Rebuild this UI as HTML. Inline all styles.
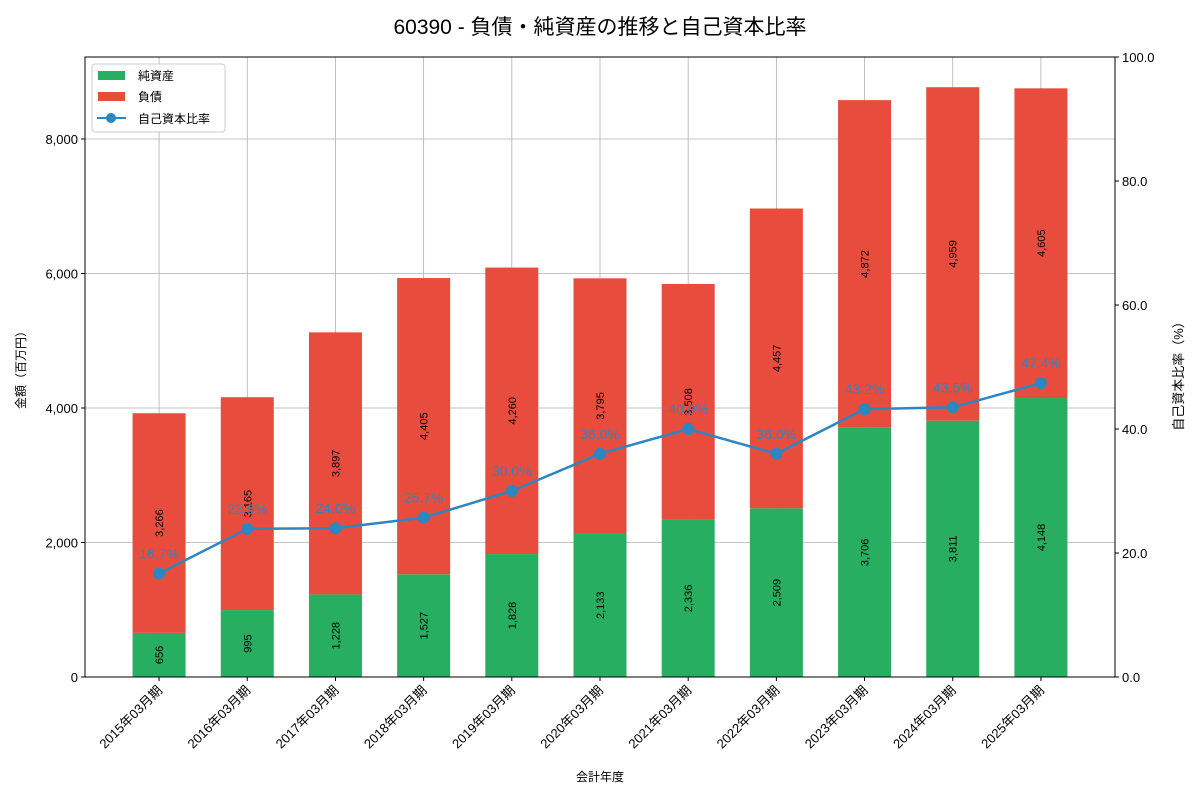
<!DOCTYPE html>
<html><head><meta charset="utf-8"><style>
body{margin:0;background:#fff;font-family:"Liberation Sans","Noto Sans CJK JP",sans-serif}
svg text{font-family:"Liberation Sans","Noto Sans CJK JP",sans-serif}
</style></head><body>
<svg id="c" width="1200" height="800" xmlns="http://www.w3.org/2000/svg">
<text x="600" y="34" font-size="21" text-anchor="middle" fill="#000">60390 - 負債・純資産の推移と自己資本比率</text>
<g id="grid"></g><g id="bars"></g><g id="line"></g>
<rect x="85" y="57" width="1030" height="620" fill="none" stroke="#000" stroke-width="1"/>
<g id="axes"></g>
<text x="600" y="781" font-size="12" text-anchor="middle">会計年度</text>
<text transform="translate(25,367) rotate(-90)" font-size="12" text-anchor="middle">金額（百万円）</text>
<text transform="translate(1183,373) rotate(-90)" font-size="13" text-anchor="middle">自己資本比率（%）</text>
<g>
<rect x="92" y="64" width="133" height="68" fill="#fff" fill-opacity="0.85" stroke="#ccc" rx="3"/>
<rect x="98" y="71" width="27" height="9" fill="#27ae60"/>
<text x="138" y="80" font-size="12">純資産</text>
<rect x="98" y="92" width="27" height="9" fill="#e74c3c"/>
<text x="138" y="101" font-size="12">負債</text>
<line x1="97" y1="118" x2="126" y2="118" stroke="#2e86c1" stroke-width="2"/><circle cx="111" cy="118" r="5" fill="#2e86c1"/>
<text x="138" y="123" font-size="12">自己資本比率</text>
</g>
</svg>
<script>
const categories=["2015年03月期","2016年03月期","2017年03月期","2018年03月期","2019年03月期","2020年03月期","2021年03月期","2022年03月期","2023年03月期","2024年03月期","2025年03月期"];
const equity=[656,995,1228,1527,1828,2133,2336,2509,3706,3811,4148];
const liabilities=[3266,3165,3897,4405,4260,3795,3508,4457,4872,4959,4605];
const ratio=[16.7,23.9,24.0,25.7,30.0,36.0,40.0,36.0,43.2,43.5,47.4];
const yTicks=[0,2000,4000,6000,8000];
const y2Ticks=[0,20,40,60,80,100];
const NS="http://www.w3.org/2000/svg";
const X0=85,X1=1115,Y0=677,Y1=57,XMIN=-0.84,XMAX=10.84,YMAX=9219,Y2MAX=100;
const xs=i=>X0+(i-XMIN)/(XMAX-XMIN)*(X1-X0);
const ys=v=>Y0-v/YMAX*(Y0-Y1);
const y2s=v=>Y0-v/Y2MAX*(Y0-Y1);
const fmt=v=>v.toLocaleString('en-US');
function mk(p,t,a,txt){const e=document.createElementNS(NS,t);for(const k in a)e.setAttribute(k,a[k]);if(txt!==undefined)e.textContent=txt;document.getElementById(p).appendChild(e);return e;}
yTicks.forEach(v=>{const e=mk('grid','line',{x1:X0,x2:X1,y1:ys(v),y2:ys(v),stroke:'#b0b0b0','stroke-width':0.8});


mk('axes','line',{x1:X0-4,x2:X0,y1:ys(v),y2:ys(v),stroke:'#000'});
const t=mk('axes','text',{x:X0-7,y:ys(v)+5,'font-size':13,'text-anchor':'end'},fmt(v));

});
y2Ticks.forEach(v=>{mk('axes','line',{x1:X1,x2:X1+4,y1:y2s(v),y2:y2s(v),stroke:'#000'});
const t=mk('axes','text',{x:X1+7,y:y2s(v)+5,'font-size':13},v.toFixed(1));

});
const bw=53;
categories.forEach((c,i)=>{const x=xs(i);
const g=mk('grid','line',{x1:x,x2:x,y1:Y1,y2:Y0,stroke:'#b0b0b0','stroke-width':0.8});


const b1=mk('bars','rect',{x:x-bw/2,y:ys(equity[i]),width:bw,height:Y0-ys(equity[i]),fill:'#27ae60'});


const top=equity[i]+liabilities[i];
const b2=mk('bars','rect',{x:x-bw/2,y:ys(top),width:bw,height:ys(equity[i])-ys(top),fill:'#e74c3c'});


const m1=ys(equity[i]/2),m2=ys(equity[i]+liabilities[i]/2);
const l1=mk('bars','text',{transform:`translate(${x+4},${m1}) rotate(-90)`,'font-size':11,'text-anchor':'middle'},fmt(equity[i]));


const l2=mk('bars','text',{transform:`translate(${x+4},${m2}) rotate(-90)`,'font-size':11,'text-anchor':'middle'},fmt(liabilities[i]));


mk('axes','line',{x1:x,x2:x,y1:Y0,y2:Y0+4,stroke:'#000'});
const t=mk('axes','text',{transform:`translate(${x+4},${Y0+14}) rotate(-45)`,'font-size':13,'text-anchor':'end'},c);

});
const pts=ratio.map((r,i)=>xs(i)+','+y2s(r)).join(' ');
const pl=mk('line','polyline',{points:pts,fill:'none',stroke:'#2e86c1','stroke-width':2.5});


ratio.forEach((r,i)=>{const p=mk('line','circle',{cx:xs(i),cy:y2s(r),r:6,fill:'#2e86c1'});


const t=mk('line','text',{x:xs(i),y:y2s(r)-15,'font-size':14,'text-anchor':'middle',fill:'#2e86c1'},r.toFixed(1)+'%');

});
</script>
</body></html>
